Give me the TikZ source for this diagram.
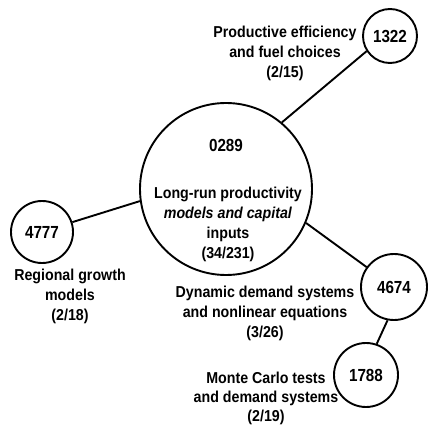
\documentclass[tikz,border=0pt]{standalone}
\usepackage{fontspec}
\setmainfont{Liberation Sans}
\newfontfamily\condfont{Liberation Sans}[FakeStretch=0.9]
\newfontfamily\numfont{Liberation Sans}[FakeStretch=0.87]
\begin{document}
\begin{tikzpicture}[x=1pt,y=-1pt,
  bub/.style={draw=black,line width=1.9pt,circle,inner sep=0pt,minimum size=#1},
  num/.style={font=\numfont\bfseries\fontsize{17.5}{20}\selectfont,inner sep=0pt},
  lab/.style={font=\condfont\bfseries\fontsize{15.8}{20}\selectfont,align=center,inner sep=0pt},
  link/.style={draw=black,line width=1.9pt}]
\useasboundingbox (0,0) rectangle (429,425);
% circles
\node[bub=172pt] (c0289) at (226,189) {};
\node[bub=54pt] (c1322) at (390,36) {};
\node[bub=62pt] (c4777) at (42,232) {};
\node[bub=66pt] (c4674) at (394,287) {};
\node[bub=64pt] (c1788) at (366,375) {};
% connectors
\draw[link] (c1322.213) -- (c0289.50);
\draw[link] (c4777.18) -- (c0289.188);
\draw[link] (c0289.-23) -- (c4674.144);
\draw[link] (c4674.259) -- (c1788.71);
% numbers
\node[num] (n0289) at (226,145) {0289};
\node[num] (n1322) at (c1322) {1322};
\node[num] (n4777) at (c4777) {4777};
\node[num] (n4674) at (c4674) {4674};
\node[num] (n1788) at (c1788) {1788};
% labels
\node[lab] (l0289) at (228,224) {Long-run productivity\\\textit{models and capital}\\inputs\\(34/231)};
\node[lab] (l1322) at (285,53) {Productive efficiency\\and fuel choices\\(2/15)};
\node[lab] (l4777) at (70,296) {Regional growth\\models\\(2/18)};
\node[lab] (l4674) at (265,313) {Dynamic demand systems\\and nonlinear equations\\(3/26)};
\node[lab,font=\condfont\bfseries\fontsize{15.8}{19}\selectfont] (l1788) at (266,398) {Monte Carlo tests\\and demand systems\\(2/19)};
\end{tikzpicture}
\end{document}
